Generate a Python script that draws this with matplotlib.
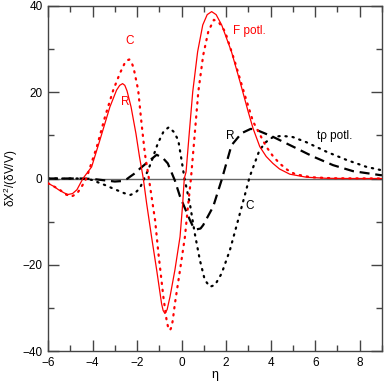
import matplotlib
matplotlib.use("Agg")
import matplotlib.pyplot as plt
from matplotlib.ticker import MultipleLocator

plt.rcParams['font.family'] = ['Liberation Sans', 'DejaVu Sans']
plt.rcParams['mathtext.fontset'] = 'custom'
plt.rcParams['mathtext.rm'] = 'Liberation Sans'
plt.rcParams['mathtext.it'] = 'Liberation Sans'
plt.rcParams['mathtext.default'] = 'rm'

# R, F potl. (red solid)
xr_f = [-6.0, -5.75, -5.5, -5.25, -5.1, -4.9, -4.7, -4.43, -4.04, -3.67, -3.22, -2.92, -2.78,
        -2.65, -2.55, -2.45, -2.27, -2.05, -1.89, -1.72, -1.57, -1.35, -1.12, -0.9, -0.83,
        -0.75, -0.65, -0.52, -0.3, -0.07, 0.05, 0.12, 0.2, 0.35, 0.5, 0.72, 0.95, 1.15, 1.35,
        1.55, 1.8, 2.24, 2.62, 2.99, 3.21, 3.51, 3.8, 4.1, 4.4, 4.86, 5.6, 6.5, 7.5, 9.0]
yr_f = [-1.1, -1.8, -2.7, -3.4, -3.7, -3.5, -2.6, 0.0, 2.7, 8.9, 16.6, 20.5, 21.6,
        22.0, 21.6, 20.3, 16.6, 10.4, 5.0, 0.0, -5.8, -13.5, -21.2, -29.0, -30.6,
        -31.3, -30.4, -27.4, -21.2, -13.5, -5.8, 0.0, 1.5, 10.9, 20.1, 29.4, 35.6, 38.0, 38.7,
        38.0, 35.6, 29.4, 22.5, 15.5, 11.6, 7.4, 5.1, 3.5, 2.2, 1.0, 0.3, 0.05, 0.0, 0.0]

# C, F potl. (red dotted)
xc_f = [-6.0, -5.5, -5.2, -4.95, -4.7, -4.5, -4.28, -4.13, -3.81, -3.44, -3.07, -2.77, -2.55,
        -2.45, -2.35, -2.25, -2.15, -1.95, -1.8, -1.65, -1.47, -1.19, -1.04, -0.82, -0.67,
        -0.6, -0.52, -0.45, -0.4, -0.3, -0.07, 0.15, 0.3, 0.42, 0.6, 0.75, 0.97, 1.2, 1.45,
        1.7, 1.95, 2.39, 2.84, 3.21, 3.8, 4.1, 4.4, 4.75, 5.1, 5.8, 6.8, 9.0]
yc_f = [-1.1, -2.5, -3.7, -4.2, -3.5, -2.0, 0.0, 2.3, 7.3, 14.3, 20.5, 24.4, 26.8,
        27.4, 27.6, 27.0, 25.5, 20.5, 12.8, 5.8, 0.0, -9.7, -17.4, -27.4, -33.0,
        -34.6, -35.2, -34.4, -33.0, -29.0, -21.2, -13.5, -5.8, 0.0, 10.9, 20.1, 28.6, 34.1, 36.8,
        36.0, 34.1, 27.1, 19.3, 13.2, 7.4, 5.2, 3.5, 2.0, 1.0, 0.3, 0.05, 0.0]

# R, t-rho potl. (black dashed)
xr_t = [-6.0, -4.5, -4.0, -3.5, -3.0, -2.7, -2.45, -2.32, -2.1, -1.87, -1.5, -1.12, -0.85,
        -0.62, -0.5, -0.3, -0.07, 0.37, 0.5, 0.67, 0.85, 0.97, 1.42, 1.8, 2.24, 2.69, 3.1,
        3.3, 4.09, 5.0, 5.9, 6.8, 7.7, 8.9, 9.0]
yr_t = [0.0, 0.0, -0.1, -0.4, -0.7, -0.6, -0.1, 0.4, 1.2, 2.3, 3.9, 5.5, 4.8,
        3.5, 2.0, -0.5, -4.2, -9.6, -11.0, -11.8, -11.6, -10.8, -6.5, -0.3, 7.7, 10.5, 11.5,
        11.4, 9.7, 7.4, 5.1, 3.1, 1.7, 0.8, 0.75]

# C, t-rho potl. (black dotted)
xc_t = [-6.0, -4.5, -4.05, -3.45, -3.0, -2.58, -2.3, -2.1, -1.88, -1.5, -1.35, -1.07, -0.8,
        -0.57, -0.35, -0.15, 0.0, 0.13, 0.37, 0.59, 0.82, 1.04, 1.27, 1.5, 1.8, 2.17, 2.54,
        2.9, 3.05, 3.5, 3.8, 4.1, 4.5, 5.0, 5.61, 6.51, 7.41, 8.3, 9.0]
yc_t = [0.0, 0.0, -0.3, -1.5, -2.5, -3.4, -3.8, -3.4, -2.3, 2.0, 4.0, 8.1, 11.0,
        11.9, 10.8, 8.9, 4.2, 0.0, -5.8, -12.7, -18.9, -23.5, -25.1, -24.7, -22.0, -16.6, -9.6,
        -2.7, 0.3, 6.6, 8.5, 9.6, 9.9, 9.6, 8.4, 6.2, 4.3, 2.7, 1.9]

xticks = [-6, -4, -2, 0, 2, 4, 6, 8]
yticks = [-40, -20, 0, 20, 40]

fig = plt.figure(figsize=(3.85, 3.82), dpi=100)
ax = fig.add_axes([48/385, 1-351/382, (382-48)/385, (351-6)/382])

ax.axhline(0, color='#666666', lw=1.0, zorder=1)
ax.plot(xr_f, yr_f, color='red', lw=0.9, zorder=3)
ax.plot(xc_f, yc_f, color='red', lw=1.6, ls=(0, (0.6, 2.6)), dash_capstyle='round', zorder=3)
ax.plot(xr_t, yr_t, color='black', lw=1.6, ls=(0, (4.5, 2.6)), zorder=2)
ax.plot(xc_t, yc_t, color='black', lw=1.6, ls=(0, (0.6, 2.6)), dash_capstyle='round', zorder=2)

ax.set_xlim(-6, 9)
ax.set_ylim(-40, 40)
ax.set_xticks(xticks)
ax.set_yticks(yticks)
ax.xaxis.set_minor_locator(MultipleLocator(1))
ax.yaxis.set_minor_locator(MultipleLocator(10))
ax.tick_params(which='both', direction='in', top=True, right=True, labelsize=8.5,
               color='#444444', width=1.0)
ax.tick_params(which='major', length=8, pad=4)
ax.tick_params(which='minor', length=4)
for s in ax.spines.values():
    s.set_color('#444444')
    s.set_linewidth(1.0)

ax.set_xlabel('η', fontsize=9, labelpad=0)
ax.set_ylabel('δX$^{2}$/(δV/V)', fontsize=8.5)
ax.yaxis.set_label_coords(-0.085, 0.5)

fs = 8.5
ax.text(-2.32, 31.9, 'C', color='red', fontsize=fs, ha='center', va='center')
ax.text(-2.54, 17.7, 'R', color='red', fontsize=fs, ha='center', va='center')
ax.text(2.3, 34.2, 'F potl.', color='red', fontsize=fs, ha='left', va='center')
ax.text(2.18, 9.8, 'R', color='black', fontsize=fs, ha='center', va='center')
ax.text(6.1, 9.8, 'tρ potl.', color='black', fontsize=fs, ha='left', va='center')
ax.text(3.06, -6.4, 'C', color='black', fontsize=fs, ha='center', va='center')

fig.savefig('out.png', dpi=100)
